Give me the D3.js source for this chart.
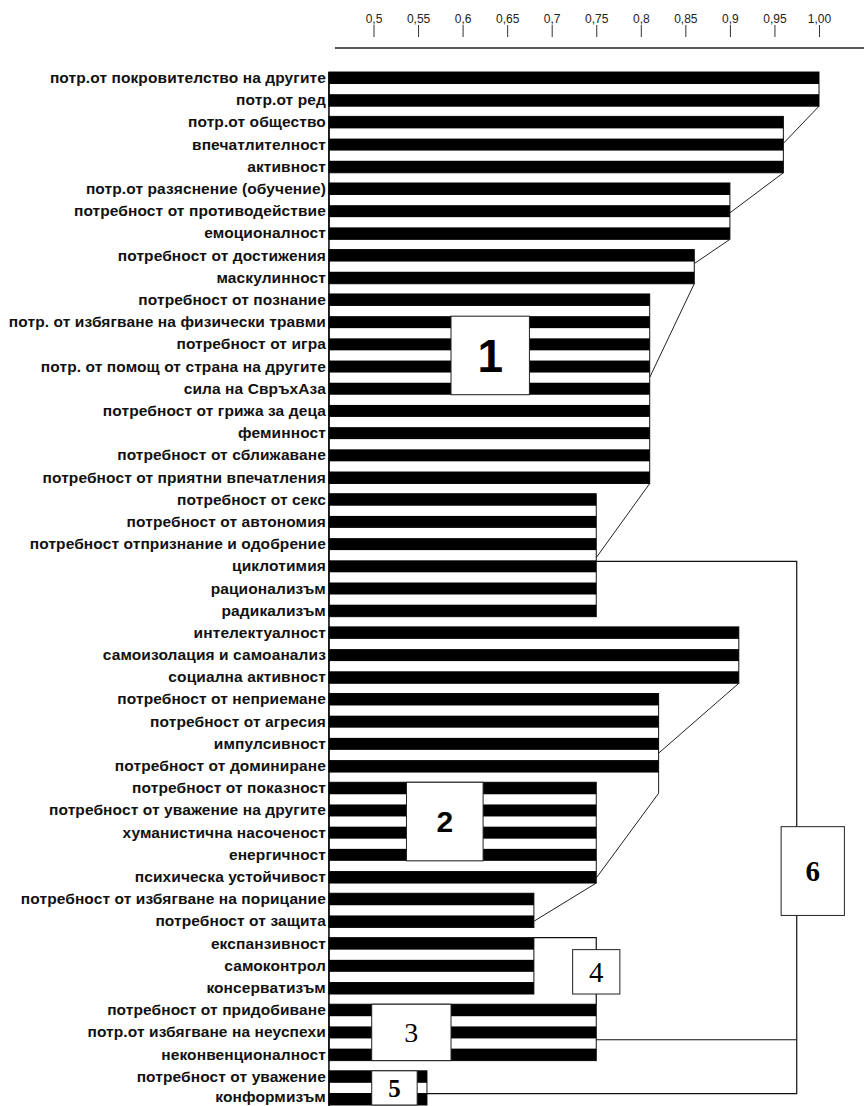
<!DOCTYPE html>
<html><head><meta charset="utf-8">
<script src="https://cdn.jsdelivr.net/npm/d3@7"></script>
<style>body{margin:0;background:#fff}svg{display:block}</style>
</head><body><svg id="c" width="864" height="1106"></svg>
<script>
const labels = [
  "потр.от покровителство на другите","потр.от ред","потр.от общество","впечатлителност","активност",
  "потр.от разяснение (обучение)","потребност от противодействие","емоционалност",
  "потребност от достижения","маскулинност",
  "потребност от познание","потр. от избягване на физически травми","потребност от игра",
  "потр. от помощ от страна на другите","сила на СвръхАза","потребност от грижа за деца","феминност",
  "потребност от сближаване","потребност от приятни впечатления",
  "потребност от секс","потребност от автономия","потребност отпризнание и одобрение","циклотимия",
  "рационализъм","радикализъм",
  "интелектуалност","самоизолация и самоанализ","социална активност",
  "потребност от неприемане","потребност от агресия","импулсивност","потребност от доминиране",
  "потребност от показност","потребност от уважение на другите","хуманистична насоченост","енергичност",
  "психическа устойчивост",
  "потребност от избягване на порицание","потребност от защита",
  "експанзивност","самоконтрол","консерватизъм",
  "потребност от придобиване","потр.от избягване на неуспехи","неконвенционалност",
  "потребност от уважение","конформизъм"
];
const clusterSizes  = [2, 3, 3, 2, 9, 6, 3, 4, 5, 2, 3, 3, 2];
const clusterLevels = [1.00, 0.96, 0.90, 0.86, 0.81, 0.75, 0.91, 0.82, 0.75, 0.68, 0.68, 0.75, 0.56];
const tickValues = [0.5, 0.55, 0.6, 0.65, 0.7, 0.75, 0.8, 0.85, 0.9, 0.95, 1.0];
const tickLabels = ["0,5","0,55","0,6","0,65","0,7","0,75","0,8","0,85","0,9","0,95","1,00"];
const boxLabels = ["1","2","3","4","5","6"];

const svg = d3.select("#c");
const x = d3.scaleLinear().domain([0.5, 1.0]).range([373.5, 819]);
const baseV = 0.45;
const x0 = x(baseV);
const y = d3.scaleBand().domain(labels).range([72, 1105]).paddingInner(0.46).paddingOuter(0);
const bw = y.bandwidth();

let start = 0;
const groups = clusterSizes.map((n, i) => {
  const rows = labels.slice(start, start + n);
  start += n;
  return {rows, level: clusterLevels[i], top: y(rows[0]), bottom: y(rows[rows.length-1]) + bw};
});

// header axis
const axis = d3.axisTop(x).tickValues(tickValues).tickSizeInner(12).tickSizeOuter(0).tickPadding(2)
  .tickFormat((d, i) => tickLabels[i]);
const ag = svg.append("g").attr("transform", "translate(0,37)").call(axis);
ag.select(".domain").remove();
ag.selectAll("line").attr("stroke", "#333");
ag.selectAll("text").attr("font-family", "Liberation Sans, Arial, sans-serif").attr("font-size", 12).attr("fill", "#222");
svg.append("line").attr("x1", x0 + 6).attr("x2", 864).attr("y1", 48).attr("y2", 48).attr("stroke", "#222").attr("stroke-width", 1.5);

// group frames
svg.append("g").selectAll("rect").data(groups).join("rect")
  .attr("x", x0).attr("y", d => d.top)
  .attr("width", d => x(d.level) - x0).attr("height", d => d.bottom - d.top)
  .attr("fill", "#fff").attr("stroke", "#111").attr("stroke-width", 1);

// bars
const rowLevel = [];
groups.forEach(g => g.rows.forEach(r => rowLevel.push({label: r, level: g.level})));
svg.append("g").selectAll("rect").data(rowLevel).join("rect")
  .attr("x", x0).attr("y", d => y(d.label))
  .attr("width", d => x(d.level) - x0).attr("height", bw)
  .attr("fill", "#000");

// labels
svg.append("g").selectAll("text").data(labels).join("text")
  .attr("x", x0 - 3).attr("y", d => Math.min(y(d) + bw / 2 + 5, 1102))
  .attr("text-anchor", "end")
  .attr("font-family", "Liberation Sans, Arial, sans-serif").attr("font-weight", "bold")
  .attr("font-size", 15.5).attr("fill", "#111").attr("letter-spacing", 0.1)
  .text(d => d);

// left axis line
svg.append("line").attr("x1", x0).attr("x2", x0).attr("y1", 72).attr("y2", 1106)
  .attr("stroke", "#000").attr("stroke-width", 1.5);

// connectors
const lineG = svg.append("g").attr("fill", "none").attr("stroke", "#222").attr("stroke-width", 1);
const gy = (g, f) => groups[g].top + f * (groups[g].bottom - groups[g].top);
const links = [[0,1,0.48],[1,2,0.53],[2,3,0.41],[3,4,0.44],[4,5,0.52],[6,7,0.76],[8,9,0.82]];
links.forEach(([a, b, f]) => {
  lineG.append("path").attr("d", d3.line()([[x(groups[a].level), groups[a].bottom],[x(groups[b].level), gy(b, f)]]));
});
lineG.append("path").attr("d", d3.line()([
  [x(groups[7].level), groups[7].bottom],
  [x(groups[7].level), groups[8].top + 11],
  [x(groups[8].level), gy(8, 0.95)]
]));

// bracket 6
const xb = x(0.975);
const bG = svg.append("g").attr("fill", "none").attr("stroke", "#111").attr("stroke-width", 1.2);
const yTop6 = gy(5, 0.55), yL = gy(11, 0.63), yM = gy(12, 0.67);
bG.append("path").attr("d", d3.line()([[x(groups[5].level), yTop6],[xb, yTop6],[xb, yM],[x(groups[12].level), yM]]));
bG.append("path").attr("d", d3.line()([[x(groups[11].level), yL],[xb, yL]]));
// bracket 4
bG.append("path").attr("d", d3.line()([[x(groups[10].level), groups[10].top],[x(0.75), groups[10].top],[x(0.75), groups[11].top]]));

// boxes
const boxes = [
  {t: boxLabels[0], x1: 0.587, x2: 0.675, y1: y(labels[11]), y2: y(labels[14]) + bw, fs: 46, ff: "Liberation Sans, Arial, sans-serif", fw: "bold"},
  {t: boxLabels[1], x1: 0.537, x2: 0.623, y1: y(labels[32]), y2: y(labels[35]) + bw, fs: 30, ff: "Liberation Sans, Arial, sans-serif", fw: "bold"},
  {t: boxLabels[2], x1: 0.498, x2: 0.587, y1: y(labels[42]), y2: y(labels[44]) + bw, fs: 28, ff: "Liberation Serif, Times New Roman, serif", fw: "normal"},
  {t: boxLabels[3], x1: 0.7235, x2: 0.7765, y1: y(labels[39]) + bw, y2: y(labels[41]) + bw, fs: 29, ff: "Liberation Serif, Times New Roman, serif", fw: "normal"},
  {t: boxLabels[4], x1: 0.498, x2: 0.549, y1: y(labels[45]), y2: y(labels[46]) + bw, fs: 25, ff: "Liberation Serif, Times New Roman, serif", fw: "bold"},
  {t: boxLabels[5], x1: 0.9575, x2: 1.0285, y1: y(labels[34]), y2: y(labels[38]), fs: 29, ff: "Liberation Serif, Times New Roman, serif", fw: "bold"}
];
const bx = svg.append("g").selectAll("g").data(boxes).join("g");
bx.append("rect").attr("x", d => x(d.x1)).attr("y", d => d.y1)
  .attr("width", d => x(d.x2) - x(d.x1)).attr("height", d => d.y2 - d.y1)
  .attr("fill", "#fff").attr("stroke", "#222").attr("stroke-width", 1);
bx.append("text").attr("x", d => (x(d.x1) + x(d.x2)) / 2).attr("y", d => (d.y1 + d.y2) / 2)
  .attr("dy", "0.36em").attr("text-anchor", "middle")
  .attr("font-family", d => d.ff).attr("font-weight", d => d.fw).attr("font-size", d => d.fs)
  .attr("fill", "#000").text(d => d.t);
</script></body></html>
